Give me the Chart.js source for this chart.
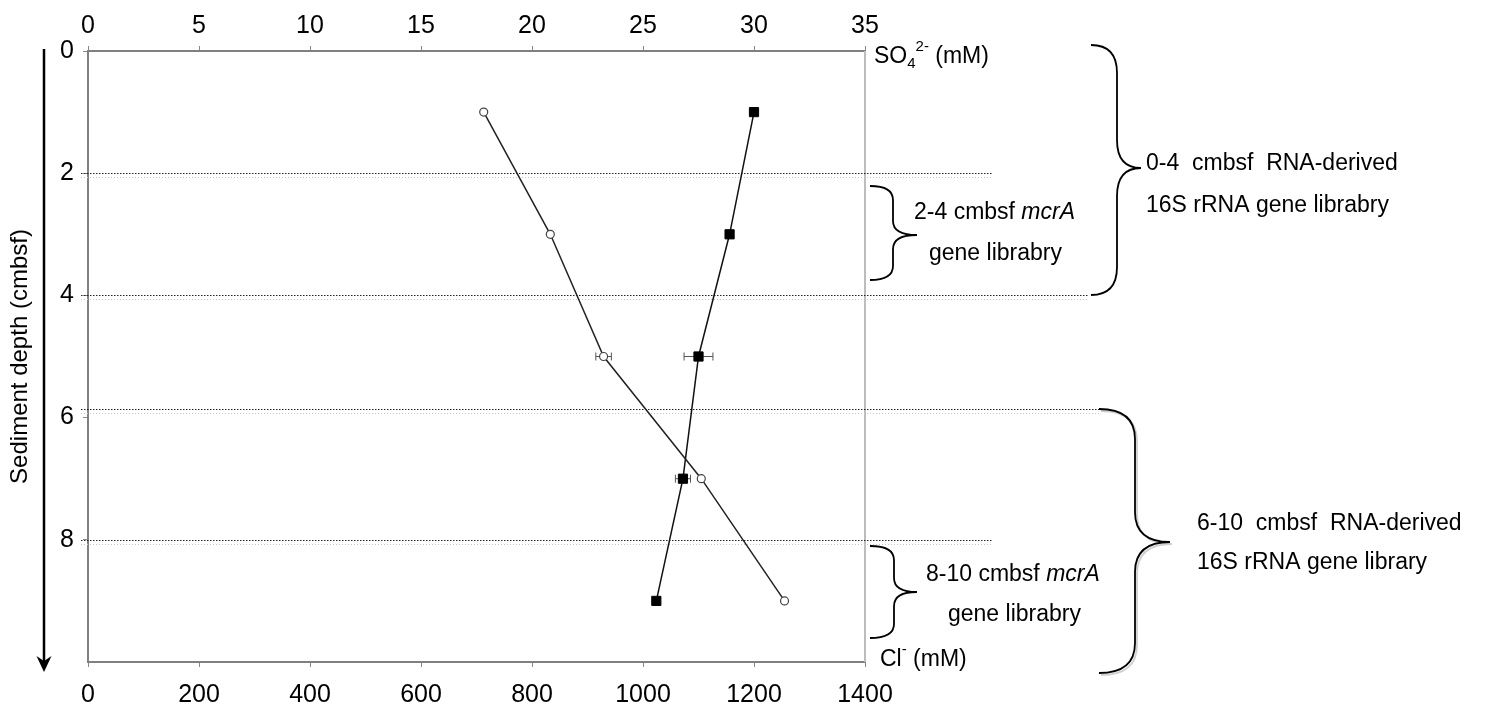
<!doctype html>
<html lang="en">

<head>
    <meta charset="utf-8">
    <title>Sediment depth profile</title>
    <script src="https://cdn.jsdelivr.net/npm/chart.js@4.4.0/dist/chart.umd.min.js"></script>
    <style>
        body { margin: 0; background: #fff; }
        #wrap { width: 1487px; height: 711px; position: relative; }
    </style>
</head>

<body>

    <div id="wrap"><canvas id="chart"></canvas></div>

    <script>
        // depth of each pore water sample (cmbsf)
        var depths = [1, 3, 5, 7, 9];
        // sulfate, filled squares, top axis
        var sulfate = [30.0, 28.9, 27.5, 26.8, 25.6];
        var sulfateErr = [0, 0, 0.65, 0.34, 0];
        // chloride, open circles, bottom axis
        var chloride = [713, 833, 929, 1105, 1255];
        var chlorideErr = [0, 0, 14, 0, 0];

        var depthTicks = [0, 2, 4, 6, 8];
        var sulfateTicks = [0, 5, 10, 15, 20, 25, 30, 35];
        var chlorideTicks = [0, 200, 400, 600, 800, 1000, 1200, 1400];

        // dotted section lines (depth, where the line stops in px)
        var sectionDepths = [2, 4, 5.86, 8];
        var sectionEnds = [992, 1089, 1099, 992];

        var FONT = "'Liberation Sans', Arial, Helvetica, sans-serif";

        function ticksFrom(arr) {
            return function (s) {
                s.ticks = arr.map(function (v) { return { value: v }; });
            };
        }

        function plain(v) {
            return String(v);
        }

        function brace(ctx, xEnd, xMid, xTip, yTop, yTip, yBot, r) {
            ctx.beginPath();
            ctx.moveTo(xEnd, yTop);
            ctx.quadraticCurveTo(xMid, yTop, xMid, yTop + r);
            ctx.lineTo(xMid, yTip - r);
            ctx.quadraticCurveTo(xMid, yTip, xTip, yTip);
            ctx.quadraticCurveTo(xMid, yTip, xMid, yTip + r);
            ctx.lineTo(xMid, yBot - r);
            ctx.quadraticCurveTo(xMid, yBot, xEnd, yBot);
            ctx.stroke();
        }

        function mixed(ctx, x, y, parts) {
            parts.forEach(function (p) {
                ctx.font = (p.italic ? 'italic ' : '') + (p.size || 23) + 'px ' + FONT;
                ctx.fillText(p.t, x, y + (p.dy || 0));
                x += ctx.measureText(p.t).width;
            });
        }

        var extras = {
            id: 'extras',
            beforeDatasetsDraw: function (chart) {
                var ctx = chart.ctx, area = chart.chartArea, y = chart.scales.y;
                ctx.save();

                // right frame line
                ctx.strokeStyle = '#bdbdbd';
                ctx.lineWidth = 2;
                ctx.beginPath();
                ctx.moveTo(area.right, area.top);
                ctx.lineTo(area.right, area.bottom);
                ctx.stroke();

                // dotted section lines, with the faint double below
                sectionDepths.forEach(function (d, i) {
                    var py = Math.round(y.getPixelForValue(d)) + 0.5;
                    ctx.lineWidth = 1;
                    ctx.setLineDash([1.5, 1.5]);
                    ctx.strokeStyle = '#222';
                    ctx.beginPath();
                    ctx.moveTo(81, py);
                    ctx.lineTo(sectionEnds[i], py);
                    ctx.stroke();
                    ctx.setLineDash([1, 2]);
                    ctx.strokeStyle = '#c4c4c4';
                    ctx.beginPath();
                    ctx.moveTo(81, py + 4);
                    ctx.lineTo(sectionEnds[i], py + 4);
                    ctx.stroke();
                });
                ctx.setLineDash([]);

                // horizontal error bars
                ctx.strokeStyle = '#555';
                ctx.lineWidth = 1;
                [[sulfate, sulfateErr, chart.scales.x2], [chloride, chlorideErr, chart.scales.x]].forEach(function (s) {
                    s[0].forEach(function (v, i) {
                        if (!s[1][i]) return;
                        var py = y.getPixelForValue(depths[i]);
                        var a = s[2].getPixelForValue(v - s[1][i]);
                        var b = s[2].getPixelForValue(v + s[1][i]);
                        ctx.beginPath();
                        ctx.moveTo(a, py); ctx.lineTo(b, py);
                        ctx.moveTo(a, py - 4); ctx.lineTo(a, py + 4);
                        ctx.moveTo(b, py - 4); ctx.lineTo(b, py + 4);
                        ctx.stroke();
                    });
                });
                ctx.restore();
            },
            afterDraw: function (chart) {
                var ctx = chart.ctx;
                ctx.save();

                // depth arrow
                ctx.strokeStyle = '#000';
                ctx.fillStyle = '#000';
                ctx.lineWidth = 2.5;
                ctx.beginPath();
                ctx.moveTo(44, 49);
                ctx.lineTo(44, 662);
                ctx.stroke();
                ctx.beginPath();
                ctx.moveTo(44, 672);
                ctx.lineTo(36.5, 656);
                ctx.lineTo(44, 661);
                ctx.lineTo(51.5, 656);
                ctx.closePath();
                ctx.fill();

                // braces
                ctx.lineWidth = 1.8;
                ctx.strokeStyle = '#d0d0d0';
                brace(ctx, 1101, 1137, 1172, 411, 544, 675, 30);
                ctx.strokeStyle = '#000';
                brace(ctx, 1091, 1117, 1141, 45, 168, 295, 28);
                brace(ctx, 870, 893, 917, 186, 235, 280, 14);
                brace(ctx, 1099, 1135, 1170, 409, 542, 673, 30);
                brace(ctx, 870, 894, 917, 546, 592, 638, 14);

                // labels
                ctx.textBaseline = 'middle';
                ctx.textAlign = 'left';
                mixed(ctx, 1146, 164, [{ t: '0-4  cmbsf  RNA-derived' }]);
                mixed(ctx, 1146, 206, [{ t: '16S rRNA gene librabry' }]);
                mixed(ctx, 914, 213, [{ t: '2-4 cmbsf ' }, { t: 'mcrA', italic: true }]);
                mixed(ctx, 929, 254, [{ t: 'gene librabry' }]);
                mixed(ctx, 1197, 524, [{ t: '6-10  cmbsf  RNA-derived' }]);
                mixed(ctx, 1197, 563, [{ t: '16S rRNA gene library' }]);
                mixed(ctx, 926, 575, [{ t: '8-10 cmbsf ' }, { t: 'mcrA', italic: true }]);
                mixed(ctx, 948, 615, [{ t: 'gene librabry' }]);

                mixed(ctx, 874, 57, [{ t: 'SO' }, { t: '4', size: 15, dy: 7 }, { t: '2-', size: 15, dy: -10 }, { t: ' (mM)' }]);
                mixed(ctx, 880, 660, [{ t: 'Cl' }, { t: '-', size: 15, dy: -10 }, { t: ' (mM)' }]);
                ctx.restore();
            }
        };

        new Chart(document.getElementById('chart').getContext('2d'), {
            type: 'line',
            data: {
                datasets: [{
                    label: 'Cl-',
                    xAxisID: 'x',
                    yAxisID: 'y',
                    data: depths.map(function (d, i) { return { x: chloride[i], y: d }; }),
                    borderColor: '#222',
                    borderWidth: 1.5,
                    pointStyle: 'circle',
                    pointRadius: 4,
                    pointBorderWidth: 1.2,
                    pointBackgroundColor: '#fff',
                    pointBorderColor: '#444',
                    tension: 0
                }, {
                    label: 'SO42-',
                    xAxisID: 'x2',
                    yAxisID: 'y',
                    data: depths.map(function (d, i) { return { x: sulfate[i], y: d }; }),
                    borderColor: '#111',
                    borderWidth: 1.5,
                    pointStyle: 'rect',
                    pointRadius: 6.5,
                    pointBorderWidth: 1,
                    pointBackgroundColor: '#000',
                    pointBorderColor: '#000',
                    tension: 0
                }]
            },
            options: {
                responsive: true,
                maintainAspectRatio: false,
                animation: false,
                layout: { padding: { left: 0, right: 622, top: 0, bottom: 0 } },
                plugins: {
                    legend: { display: false },
                    tooltip: { enabled: false }
                },
                scales: {
                    x: {
                        type: 'linear',
                        position: 'bottom',
                        min: 0,
                        max: 1400,
                        afterBuildTicks: ticksFrom(chlorideTicks),
                        afterFit: function (s) { s.height = 49; },
                        grid: { drawOnChartArea: false, tickLength: 5, color: '#888' },
                        border: { color: '#808080', width: 2 },
                        ticks: { color: '#000', padding: 13, maxRotation: 0, callback: plain, font: { family: FONT, size: 25 } }
                    },
                    x2: {
                        type: 'linear',
                        position: 'top',
                        min: 0,
                        max: 35,
                        afterBuildTicks: ticksFrom(sulfateTicks),
                        afterFit: function (s) { s.height = 51; },
                        grid: { drawOnChartArea: false, tickLength: 5, color: '#888' },
                        border: { color: '#808080', width: 2 },
                        ticks: { color: '#000', padding: 5, maxRotation: 0, callback: plain, font: { family: FONT, size: 25 } }
                    },
                    y: {
                        type: 'linear',
                        position: 'left',
                        reverse: true,
                        min: 0,
                        max: 10,
                        afterBuildTicks: ticksFrom(depthTicks),
                        afterFit: function (s) { s.width = 88; },
                        grid: { drawOnChartArea: false, tickLength: 5, color: '#888' },
                        border: { color: '#808080', width: 2 },
                        ticks: { color: '#000', padding: 9, callback: plain, font: { family: FONT, size: 25 } },
                        title: {
                            display: true,
                            text: 'Sediment depth (cmbsf)',
                            color: '#000',
                            padding: { top: 6, bottom: 0 },
                            font: { family: FONT, size: 24 }
                        }
                    }
                }
            },
            plugins: [extras]
        });
    </script>

</body>

</html>
